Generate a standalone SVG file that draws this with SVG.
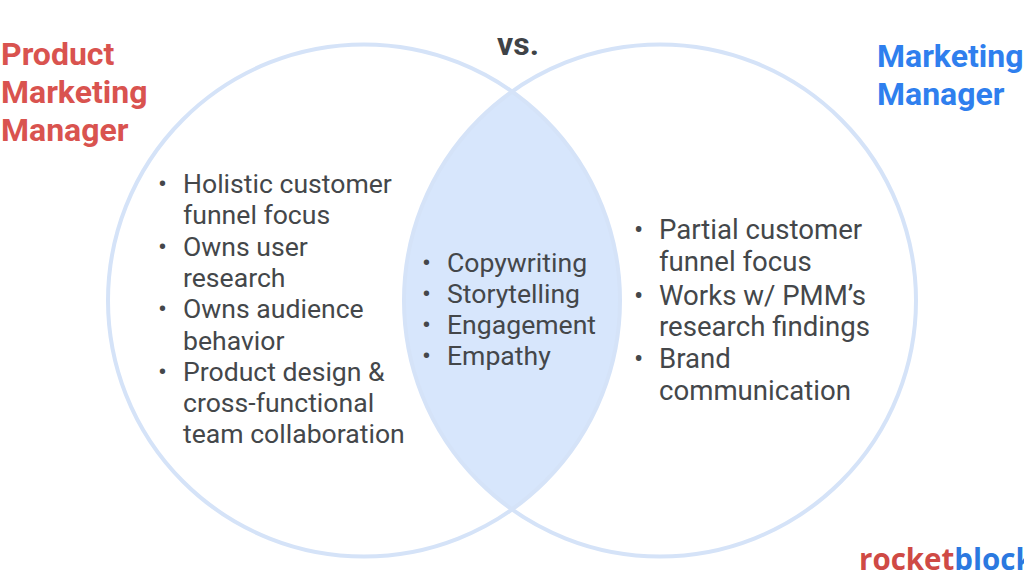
<svg xmlns="http://www.w3.org/2000/svg" width="1024" height="580" viewBox="0 0 1024 580">
<style>
text{font-family:Roboto,"Liberation Sans",sans-serif}
.ring{fill:none;stroke:#d5e3f8;stroke-width:4}
.lens{fill:#d7e6fc}
.body{font-size:26.6px;fill:#44474a}
.wide{font-size:27.6px}
.head{font-size:32px;font-weight:700}
.red{fill:#d9534f}
.blue{fill:#2f7fee}
</style>
<rect width="1024" height="580" fill="#fff"/>
<g id="overlap"><path class="lens" d="M512 91A256 256 0 0 1 512 510A256 256 0 0 1 512 91Z"/></g>
<g id="left-circle"><circle class="ring" cx="364" cy="300.500" r="256"/></g>
<g id="right-circle"><circle class="ring" cx="660" cy="300.500" r="256"/></g>
<g id="versus"><text x="497" y="55" font-size="32" font-weight="700" fill="#3f4347">vs.</text></g>
<g id="pmm-title" class="head red"><text x="1" y="64.500">Product</text><text x="1" y="102.500">Marketing</text><text x="1" y="140.500">Manager</text></g>
<g id="mm-title" class="head blue"><text x="877" y="66.500">Marketing</text><text x="877" y="104.500">Manager</text></g>
<g id="pmm-list" class="body">
<text x="158" y="193">•</text><text x="183" y="193">Holistic customer</text><text x="183" y="224">funnel focus</text>
<text x="158" y="256">•</text><text x="183" y="256">Owns user</text><text x="183" y="287">research</text>
<text x="158" y="318">•</text><text x="183" y="318">Owns audience</text><text x="183" y="350">behavior</text>
<text x="158" y="381">•</text><text x="183" y="381">Product design &amp;</text><text x="183" y="412">cross-functional</text><text x="183" y="443">team collaboration</text>
</g>
<g id="shared-list" class="body">
<text x="422" y="272">•</text><text x="447" y="272">Copywriting</text>
<text x="422" y="303">•</text><text x="447" y="303">Storytelling</text>
<text x="422" y="334">•</text><text x="447" y="334">Engagement</text>
<text x="422" y="365">•</text><text x="447" y="365">Empathy</text>
</g>
<g id="mm-list" class="body wide">
<text x="634" y="238.500">•</text><text x="659" y="238.500">Partial customer</text><text x="659" y="270.500">funnel focus</text>
<text x="634" y="304.500">•</text><text x="659" y="304.500">Works w/ PMM’s</text><text x="659" y="335.500">research findings</text>
<text x="634" y="367.500">•</text><text x="659" y="367.500">Brand</text><text x="659" y="399.500">communication</text>
</g>
<g id="brand"><text x="859" y="570" font-size="29.500" font-weight="700" style="font-family:'Open Sans','Noto Sans',sans-serif"><tspan fill="#cf4a45">rocket</tspan><tspan fill="#2b79e0">block</tspan></text></g>
</svg>
